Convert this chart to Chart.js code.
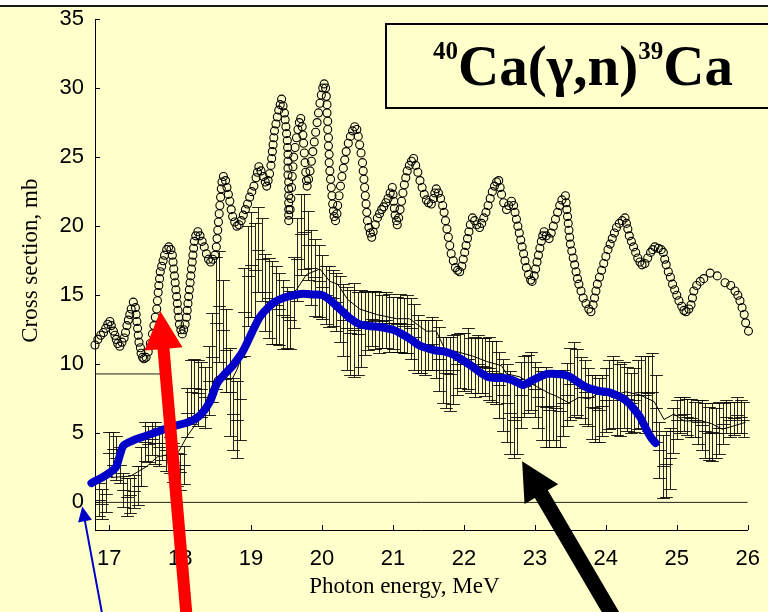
<!DOCTYPE html>
<html>
<head>
<meta charset="utf-8">
<title>40Ca(γ,n)39Ca</title>
<script src="https://cdn.jsdelivr.net/npm/chart.js@4.4.1/dist/chart.umd.min.js"></script>
<style>
  html, body { margin: 0; padding: 0; background: #ffffcc; }
  #wrap { position: relative; width: 768px; height: 612px; }
</style>
</head>
<body>
<div id="wrap"><canvas id="xsChart" width="768" height="612"></canvas></div>
<script>
// Tick positions
const xTickValues = [17, 18, 19, 20, 21, 22, 23, 24, 25, 26];
const yTickValues = [0, 5, 10, 15, 20, 25, 30, 35];

// Photoabsorption-like reference curve (open circles): [E, sigma]
const circlePoints = [
  [16.80,11.4],[16.84,11.8],[16.88,12.1],[16.92,12.3],[16.95,12.6],[16.98,12.9],[17.01,13.1],
  [17.03,12.8],[17.06,12.4],[17.08,12.1],[17.10,11.8],[17.12,11.5],[17.15,11.3],
  [17.18,11.6],[17.21,11.9],[17.23,12.3],[17.25,12.8],[17.27,13.2],[17.29,13.6],[17.31,14.0],[17.34,14.5],
  [17.37,14.1],[17.38,13.6],[17.39,13.1],[17.40,12.6],[17.41,12.1],[17.42,11.6],[17.44,11.2],[17.45,10.8],[17.47,10.5],[17.49,10.4],
  [17.52,10.5],[17.55,10.9],[17.58,11.5],[17.61,12.2],[17.63,12.8],[17.65,13.4],[17.67,14.0],[17.68,14.6],[17.69,15.2],[17.70,15.7],
  [17.71,16.2],[17.72,16.7],[17.74,17.1],[17.76,17.5],[17.78,17.9],[17.81,18.3],[17.84,18.5],
  [17.87,18.3],[17.89,17.9],[17.90,17.4],[17.91,16.9],[17.92,16.4],[17.93,15.9],[17.94,15.4],[17.95,14.9],[17.96,14.4],[17.97,13.9],
  [17.98,13.4],[17.99,12.9],[18.01,12.5],[18.03,12.2],
  [18.05,12.5],[18.07,12.9],[18.09,13.4],[18.10,13.9],[18.11,14.4],[18.12,14.9],[18.13,15.4],[18.14,15.9],[18.15,16.4],[18.16,16.9],
  [18.17,17.4],[18.18,17.9],[18.19,18.4],[18.20,18.9],[18.22,19.3],[18.25,19.6],
  [18.28,19.3],[18.31,18.9],[18.34,18.5],[18.37,18.0],[18.40,17.6],[18.43,17.4],
  [18.46,17.6],[18.49,17.9],[18.51,18.5],[18.52,19.1],[18.53,19.7],[18.54,20.3],[18.55,20.9],[18.56,21.5],[18.57,22.1],[18.58,22.7],
  [18.59,23.2],[18.61,23.6],
  [18.64,23.3],[18.66,22.8],[18.68,22.3],[18.70,21.8],[18.72,21.2],[18.74,20.7],[18.77,20.3],[18.80,20.0],
  [18.83,20.1],[18.86,20.4],[18.89,20.8],[18.92,21.2],[18.95,21.6],[18.98,22.1],[19.01,22.5],[19.04,22.9],[19.07,23.5],[19.09,23.9],[19.11,24.3],
  [19.14,24.0],[19.17,23.6],[19.20,23.2],[19.22,22.9],
  [19.24,23.3],[19.26,23.8],[19.28,24.4],[19.29,24.9],[19.30,25.4],[19.31,25.9],[19.32,26.4],[19.33,26.9],[19.35,27.4],[19.37,27.9],
  [19.39,28.4],[19.41,28.8],[19.43,29.2],
  [19.45,28.7],[19.47,28.2],[19.48,27.7],[19.49,27.2],[19.50,26.7],[19.51,26.2],[19.515,25.7],[19.52,25.2],[19.52,24.7],[19.52,24.2],
  [19.52,23.7],[19.53,23.2],[19.53,22.7],[19.53,22.2],[19.53,21.7],[19.53,21.2],[19.53,20.8],[19.53,20.4],
  [19.55,21.2],[19.56,22.0],[19.57,22.8],[19.58,23.6],[19.59,24.3],[19.60,25.0],[19.62,25.7],[19.64,26.4],[19.66,27.0],[19.68,27.5],[19.70,27.8],
  [19.72,27.2],[19.73,26.6],[19.74,26.0],[19.75,25.3],[19.76,24.6],[19.77,23.9],[19.78,23.3],[19.79,22.9],
  [19.81,23.4],[19.83,24.0],[19.85,24.7],[19.87,25.4],[19.89,26.1],[19.91,26.8],[19.93,27.5],[19.95,28.2],[19.97,28.9],[19.99,29.5],
  [20.01,30.0],[20.03,30.3],
  [20.05,30.0],[20.06,29.4],[20.07,28.8],[20.07,28.2],[20.08,27.6],[20.08,27.0],[20.09,26.4],[20.09,25.8],[20.10,25.2],[20.10,24.6],
  [20.11,24.0],[20.12,23.4],[20.13,22.8],[20.14,22.2],[20.15,21.6],[20.16,21.1],[20.17,20.7],[20.19,20.4],
  [20.21,20.9],[20.22,21.5],[20.24,22.2],[20.26,22.9],[20.28,23.6],[20.30,24.2],[20.32,24.8],[20.34,25.4],[20.37,26.0],[20.40,26.5],
  [20.43,26.9],[20.46,27.2],
  [20.49,27.0],[20.51,26.5],[20.53,25.9],[20.55,25.3],[20.57,24.6],[20.58,24.0],[20.59,23.4],[20.60,22.8],[20.61,22.2],[20.62,21.6],
  [20.63,21.0],[20.64,20.4],[20.66,19.9],[20.68,19.5],[20.70,19.2],
  [20.72,19.6],[20.75,20.1],[20.78,20.6],[20.81,20.9],[20.84,21.2],[20.87,21.4],[20.90,21.7],[20.93,22.0],[20.96,22.4],[20.99,22.8],
  [21.00,22.3],[21.01,21.8],[21.02,21.3],[21.03,20.8],[21.05,20.4],[21.06,20.1],
  [21.08,20.6],[21.10,21.2],[21.12,21.8],[21.14,22.4],[21.16,23.0],[21.18,23.5],[21.20,24.0],[21.23,24.4],[21.26,24.7],[21.29,24.9],
  [21.32,24.4],[21.35,23.9],[21.38,23.3],[21.41,22.8],[21.44,22.3],[21.47,21.9],[21.50,21.7],[21.54,21.6],
  [21.57,22.0],[21.59,22.4],[21.61,22.7],
  [21.64,22.4],[21.67,22.0],[21.70,21.5],[21.72,21.0],[21.74,20.4],[21.76,19.8],[21.78,19.2],[21.80,18.6],[21.82,18.0],[21.85,17.5],
  [21.88,17.0],[21.91,16.8],[21.94,16.7],
  [21.97,17.1],[21.99,17.6],[22.01,18.1],[22.03,18.6],[22.05,19.1],[22.07,19.6],[22.09,20.1],[22.12,20.6],
  [22.15,20.4],[22.18,20.1],[22.22,19.9],
  [22.25,20.2],[22.28,20.6],[22.31,21.0],[22.34,21.5],[22.37,22.0],[22.40,22.5],[22.43,22.9],[22.46,23.2],[22.49,23.3],
  [22.51,22.8],[22.53,22.3],[22.56,21.7],[22.60,21.2],[22.63,21.5],[22.67,21.8],
  [22.70,21.5],[22.72,21.0],[22.74,20.5],[22.76,20.0],[22.78,19.5],[22.80,19.0],[22.82,18.5],[22.84,18.0],[22.86,17.5],[22.88,17.0],
  [22.91,16.5],[22.94,16.1],[22.96,16.0],
  [22.99,16.4],[23.01,16.9],[23.03,17.4],[23.05,17.9],[23.07,18.4],[23.09,18.9],[23.11,19.3],[23.13,19.6],
  [23.16,19.3],[23.20,19.1],
  [23.23,19.5],[23.26,20.0],[23.29,20.5],[23.32,21.0],[23.35,21.5],[23.38,21.9],[23.43,22.2],
  [23.44,21.7],[23.45,21.2],[23.46,20.7],[23.47,20.2],[23.48,19.7],[23.49,19.2],[23.50,18.7],[23.52,18.2],[23.54,17.7],[23.56,17.2],
  [23.58,16.7],[23.60,16.2],[23.62,15.8],[23.65,15.3],[23.68,14.8],[23.72,14.4],[23.76,14.0],[23.79,13.8],
  [23.82,14.3],[23.84,14.8],[23.86,15.3],[23.88,15.8],[23.91,16.3],[23.94,16.8],[23.97,17.3],[24.00,17.8],[24.03,18.3],[24.06,18.7],
  [24.09,19.1],[24.12,19.5],[24.15,19.9],[24.19,20.2],[24.23,20.4],[24.27,20.6],
  [24.29,20.2],[24.31,19.8],[24.33,19.3],[24.36,18.9],[24.39,18.5],[24.42,18.1],[24.45,17.7],[24.48,17.4],[24.51,17.2],
  [24.55,17.3],[24.59,17.7],[24.63,18.1],[24.66,18.3],[24.69,18.5],
  [24.74,18.4],[24.78,18.3],[24.81,18.1],[24.83,17.6],[24.85,17.2],[24.88,16.7],[24.91,16.3],[24.94,15.8],[24.97,15.4],[25.00,15.0],
  [25.03,14.6],[25.07,14.2],[25.10,13.9],[25.13,13.8],
  [25.17,14.0],[25.20,14.3],[25.22,14.8],[25.24,15.3],[25.28,15.7],[25.33,16.0],[25.38,16.2],[25.47,16.6],
  [25.57,16.4],[25.68,15.9],[25.76,15.7],[25.82,15.3],[25.86,15.0],[25.89,14.6],[25.92,14.1],[25.95,13.6],[25.97,13.0],[26.01,12.4]
];

// Measured (γ,n) points with errors: [E, sigma, dSigma]
const measuredPoints = [
  [16.85,0.2,1.2],[16.90,-0.1,1.1],[16.95,0.6,1.3],[17.00,3.6,1.5],[17.05,3.9,1.2],[17.10,3.2,1.6],[17.15,2.7,1.3],
  [17.20,0.9,1.2],[17.25,0.4,1.4],[17.30,0.5,1.3],[17.35,0.8,1.2],[17.40,1.2,1.4],[17.45,2.6,1.4],[17.50,4.4,1.4],
  [17.55,4.2,1.3],[17.60,4.6,1.2],[17.65,4.3,1.5],[17.70,4.0,1.4],[17.75,4.3,1.2],[17.80,3.8,1.5],[17.85,3.4,1.3],
  [17.90,2.9,1.4],[17.95,2.4,1.2],[18.00,2.2,1.3],[18.05,2.7,1.4],[18.10,6.5,1.8],[18.15,8.0,2.3],[18.20,8.3,2.1],
  [18.25,7.9,2.4],[18.30,8.2,2.0],[18.35,7.6,2.2],[18.40,8.8,2.5],[18.45,10.5,3.2],[18.50,13.0,4.8],[18.55,14.2,4.0],
  [18.60,12.5,3.6],[18.65,11.0,3.0],[18.70,8.0,3.2],[18.75,6.4,2.6],[18.80,6.0,2.8],[18.85,7.5,3.0],[18.90,13.8,3.2],
  [18.95,16.4,3.6],[19.00,17.2,3.8],[19.05,16.8,3.4],[19.10,18.3,3.1],[19.15,17.6,3.0],[19.20,15.2,2.8],[19.25,14.8,2.9],
  [19.30,14.5,3.0],[19.35,14.3,2.8],[19.40,14.0,2.6],[19.45,13.6,2.5],[19.50,13.4,2.2],[19.55,13.2,2.1],[19.60,15.2,2.6],
  [19.65,17.6,3.0],[19.70,19.4,2.9],[19.75,19.6,2.7],[19.80,18.6,2.5],[19.85,17.0,2.7],[19.90,16.3,2.8],[19.95,16.0,2.6],
  [20.00,15.6,2.3],[20.05,15.0,2.1],[20.10,14.9,2.2],[20.15,14.8,2.0],[20.20,14.5,2.1],[20.25,14.0,2.4],[20.30,13.2,2.6],
  [20.35,12.6,3.0],[20.40,12.3,3.1],[20.45,12.5,3.4],[20.50,12.2,3.0],[20.55,12.6,2.8],[20.60,13.0,2.3],[20.65,13.1,2.1],
  [20.70,13.3,2.0],[20.75,13.2,2.1],[20.80,13.0,2.2],[20.85,13.1,1.9],[20.90,13.2,2.0],[20.95,13.0,2.1],[21.00,13.0,1.9],
  [21.05,12.9,2.0],[21.10,13.0,2.1],[21.15,12.8,2.0],[21.20,12.9,2.1],[21.25,12.6,2.2],[21.30,12.0,2.4],[21.35,11.5,2.1],
  [21.40,11.3,1.9],[21.45,11.2,2.0],[21.50,11.4,1.8],[21.55,11.5,1.9],[21.60,11.1,2.1],[21.65,10.4,2.3],[21.70,9.6,2.4],
  [21.75,9.4,2.6],[21.80,9.3,2.7],[21.85,9.6,2.5],[21.90,10.0,2.2],[21.95,10.3,2.0],[22.00,10.2,2.1],[22.05,10.4,2.2],
  [22.10,9.9,2.0],[22.15,9.8,2.2],[22.20,10.0,2.1],[22.25,9.9,2.0],[22.30,9.8,2.1],[22.35,9.7,2.3],[22.40,9.5,2.2],
  [22.45,9.4,2.3],[22.50,8.5,2.4],[22.55,7.8,2.6],[22.60,7.2,2.8],[22.65,6.5,3.0],[22.70,6.0,2.8],[22.75,6.2,2.7],
  [22.80,7.8,2.4],[22.85,8.4,2.2],[22.90,8.6,2.1],[22.95,8.8,2.1],[23.00,8.2,2.0],[23.05,7.6,2.2],[23.10,7.0,2.5],
  [23.15,6.9,2.9],[23.20,6.7,2.7],[23.25,7.0,2.5],[23.30,6.8,2.8],[23.35,6.6,2.6],[23.40,7.2,2.4],[23.45,7.8,2.3],
  [23.50,8.6,2.6],[23.55,8.9,2.7],[23.60,8.7,2.4],[23.65,8.3,2.2],[23.70,8.0,2.3],[23.75,7.6,2.1],[23.80,6.9,2.3],
  [23.85,6.8,2.4],[23.90,6.7,2.3],[23.95,7.0,2.2],[24.00,7.4,2.3],[24.05,7.8,2.5],[24.10,8.0,2.6],[24.15,7.6,2.7],
  [24.20,7.4,2.6],[24.25,7.8,2.4],[24.30,7.5,2.3],[24.35,7.2,2.2],[24.40,7.4,2.3],[24.45,7.8,2.5],[24.50,8.0,2.6],
  [24.55,7.8,2.8],[24.60,7.9,2.7],[24.65,8.0,2.8],[24.70,6.8,2.4],[24.75,3.8,2.0],[24.80,2.6,2.3],[24.85,2.8,2.4],
  [24.90,3.2,2.2],[24.95,5.2,1.6],[25.00,6.0,1.4],[25.05,6.3,1.3],[25.10,6.4,1.2],[25.15,6.2,1.3],[25.20,6.1,1.4],
  [25.25,6.0,1.3],[25.30,5.8,1.6],[25.35,5.6,1.8],[25.40,5.2,2.0],[25.45,5.0,1.9],[25.50,5.1,2.1],[25.55,5.0,1.8],
  [25.60,5.4,1.9],[25.65,5.7,1.5],[25.70,6.2,1.2],[25.75,6.0,1.3],[25.80,6.1,1.2],[25.85,6.3,1.3],[25.90,6.2,1.2],
  [25.95,6.0,1.3]
];

// Averaged measured data (thin line): [E, sigma]
const averagedLine = [
  [17.02,1.8],[17.30,1.9],[17.53,2.6],[17.68,3.3],[17.97,3.6],[18.10,4.8],[18.24,5.8],[18.38,7.5],[18.49,9.0],[18.59,9.3],
  [18.66,9.0],[18.73,8.9],[18.80,9.6],[18.94,11.6],[19.05,12.7],[19.17,13.6],[19.36,14.7],[19.55,15.0],[19.64,15.4],[19.78,16.5],
  [19.97,16.9],[20.11,16.0],[20.22,15.8],[20.36,14.7],[20.53,14.0],[20.77,13.6],[21.05,13.3],[21.23,13.3],[21.47,12.4],[21.61,12.4],
  [21.73,11.1],[21.91,10.9],[22.12,10.6],[22.32,10.2],[22.53,9.9],[22.60,9.3],[22.78,9.1],[23.02,8.4],[23.20,7.9],[23.30,7.7],
  [23.48,7.2],[23.62,7.6],[23.77,7.5],[23.93,8.0],[24.14,7.8],[24.28,8.0],[24.47,7.8],[24.68,7.3],[24.82,6.0],[24.96,6.4],
  [25.10,5.9],[25.35,5.9],[25.49,5.7],[25.64,5.3],[25.78,5.5],[25.97,5.8]
];

// Evaluated cross section (thick blue curve): [E, sigma]
const evaluatedCurve = [
  [16.63,0.9],[16.75,1.4],[16.90,1.8],[17.02,2.2],[17.10,2.6],[17.15,3.4],[17.20,4.1],[17.30,4.4],[17.45,4.7],[17.67,5.1],
  [17.90,5.5],[18.14,5.85],[18.28,6.3],[18.42,7.3],[18.52,8.6],[18.63,9.3],[18.74,9.9],[18.88,10.9],[19.03,12.5],[19.12,13.4],
  [19.22,14.0],[19.33,14.5],[19.45,14.8],[19.60,15.0],[19.73,15.1],[19.87,15.05],[20.01,15.0],[20.10,14.7],[20.21,14.2],[20.40,13.3],
  [20.53,12.9],[20.70,12.75],[20.81,12.7],[21.00,12.5],[21.12,12.2],[21.25,11.8],[21.36,11.4],[21.46,11.2],[21.60,11.0],[21.74,10.9],
  [21.85,10.7],[21.95,10.4],[22.10,9.9],[22.23,9.4],[22.33,9.1],[22.44,9.0],[22.55,9.0],[22.65,8.9],[22.75,8.7],[22.83,8.5],
  [22.95,8.8],[23.07,9.1],[23.18,9.3],[23.28,9.3],[23.40,9.25],[23.49,9.1],[23.58,8.8],[23.70,8.4],[23.80,8.2],[23.92,8.05],
  [24.02,8.0],[24.13,7.8],[24.25,7.5],[24.34,7.1],[24.42,6.6],[24.48,6.2],[24.54,5.6],[24.59,5.1],[24.65,4.6],[24.70,4.3]
];

// Reference levels
const zeroLevel = [[16.8, 0], [26, 0]];
const markLevel = [[16.8, 9.3], [17.75, 9.3]];

// Arrow annotations, tip and tail in data units
const arrows = [
  { tip: [17.72, 13.85], tail: [18.12, -10], color: '#ff0000', shaft: 12, headLen: 38, headWidth: 38 },
  { tip: [22.82, 2.97], tail: [24.30, -10], color: '#000000', shaft: 15, headLen: 38, headWidth: 39 },
  { tip: [16.62, -0.29], tail: [16.97, -10], color: '#0000c8', shaft: 2, headLen: 15, headWidth: 14 }
];

const SANS = '"Liberation Sans", Arial, sans-serif';
const SERIF = '"Liberation Serif", "Times New Roman", serif';

const toXY = arr => arr.map(p => ({ x: p[0], y: p[1] }));

function drawArrow(ctx, xs, ys, a) {
  const tx = xs.getPixelForValue(a.tip[0]), ty = ys.getPixelForValue(a.tip[1]);
  const sx = xs.getPixelForValue(a.tail[0]), sy = ys.getPixelForValue(a.tail[1]);
  const len = Math.hypot(tx - sx, ty - sy);
  const ux = (tx - sx) / len, uy = (ty - sy) / len;
  const nx = -uy, ny = ux;
  const bx = tx - ux * a.headLen, by = ty - uy * a.headLen;
  const hs = a.shaft / 2, hh = a.headWidth / 2;
  ctx.fillStyle = a.color;
  ctx.beginPath();
  ctx.moveTo(sx + nx * hs, sy + ny * hs);
  ctx.lineTo(bx + nx * hs, by + ny * hs);
  ctx.lineTo(bx + nx * hh, by + ny * hh);
  ctx.lineTo(tx, ty);
  ctx.lineTo(bx - nx * hh, by - ny * hh);
  ctx.lineTo(bx - nx * hs, by - ny * hs);
  ctx.lineTo(sx - nx * hs, sy - ny * hs);
  ctx.closePath();
  ctx.fill();
}

function drawTitle(ctx) {
  ctx.fillStyle = '#ffffcc';
  ctx.fillRect(386, 24, 400, 84);
  ctx.strokeStyle = '#000';
  ctx.lineWidth = 2;
  ctx.strokeRect(386, 24, 400, 84);

  const parts = [
    { t: '40', sup: true }, { t: 'Ca(γ,n)', sup: false },
    { t: '39', sup: true }, { t: 'Ca', sup: false }
  ];
  let x = 433;
  ctx.fillStyle = '#000';
  ctx.textAlign = 'left';
  ctx.textBaseline = 'alphabetic';
  parts.forEach(p => {
    ctx.font = p.sup ? 'bold 25px ' + SERIF : 'bold 57px ' + SERIF;
    ctx.fillText(p.t, x, p.sup ? 59 : 85);
    x += ctx.measureText(p.t).width;
  });
}

const decor = {
  id: 'decor',
  beforeDraw(chart) {
    const ctx = chart.ctx;
    ctx.save();
    ctx.fillStyle = '#ffffcc';
    ctx.fillRect(0, 0, chart.width, chart.height);
    ctx.fillStyle = '#ffffff';
    ctx.fillRect(0, 0, chart.width, 5);
    ctx.fillStyle = '#1a1a1a';
    ctx.fillRect(0, 5, chart.width, 2);
    ctx.restore();
  },
  beforeDatasetsDraw(chart) {
    // error bars: vertical line, end caps and a centre tick
    const ctx = chart.ctx, xs = chart.scales.x, ys = chart.scales.y;
    const a = chart.chartArea;
    ctx.save();
    ctx.beginPath();
    ctx.rect(a.left, a.top, a.right - a.left + 2, a.bottom - a.top);
    ctx.clip();
    ctx.strokeStyle = 'rgba(0,0,0,0.85)';
    ctx.lineWidth = 1;
    ctx.beginPath();
    measuredPoints.forEach(p => {
      const px = Math.round(xs.getPixelForValue(p[0])) + 0.5;
      const hw = xs.getPixelForValue(p[0] + 0.09) - xs.getPixelForValue(p[0]);
      const yt = Math.round(ys.getPixelForValue(p[1] + p[2])) + 0.5;
      const yb = Math.round(ys.getPixelForValue(p[1] - p[2])) + 0.5;
      const ym = Math.round(ys.getPixelForValue(p[1])) + 0.5;
      ctx.moveTo(px, yt); ctx.lineTo(px, yb);
      [yt, ym, yb].forEach(y => { ctx.moveTo(px - hw, y); ctx.lineTo(px + hw, y); });
    });
    ctx.stroke();
    ctx.restore();
  },
  afterDraw(chart) {
    const ctx = chart.ctx, xs = chart.scales.x, ys = chart.scales.y;
    const a = chart.chartArea;
    ctx.save();

    // inward tick marks
    ctx.strokeStyle = '#000';
    ctx.lineWidth = 1;
    ctx.beginPath();
    yTickValues.forEach(v => {
      const py = Math.round(ys.getPixelForValue(v)) + 0.5;
      ctx.moveTo(a.left, py); ctx.lineTo(a.left + 5, py);
    });
    xTickValues.forEach(v => {
      const px = Math.round(xs.getPixelForValue(v)) + 0.5;
      ctx.moveTo(px, a.bottom); ctx.lineTo(px, a.bottom - 5);
    });
    ctx.stroke();

    // axis titles
    ctx.fillStyle = '#000';
    ctx.font = '23px ' + SERIF;
    ctx.textAlign = 'center';
    ctx.textBaseline = 'alphabetic';
    ctx.fillText('Photon energy, MeV', a.left + (a.right - a.left) * 0.474, 593);
    ctx.save();
    ctx.translate(37, a.top + (a.bottom - a.top) * 0.473);
    ctx.rotate(-Math.PI / 2);
    ctx.fillText('Cross section, mb', 0, 0);
    ctx.restore();

    drawTitle(ctx);
    arrows.forEach(ar => drawArrow(ctx, xs, ys, ar));
    ctx.restore();
  }
};

const tickFont = { family: SANS, size: 22 };

new Chart(document.getElementById('xsChart').getContext('2d'), {
  type: 'scatter',
  data: {
    datasets: [
      {
        label: 'Evaluation',
        data: toXY(evaluatedCurve),
        showLine: true,
        borderColor: '#0000c8',
        borderWidth: 8,
        borderCapStyle: 'round',
        borderJoinStyle: 'round',
        tension: 0.3,
        pointRadius: 0,
        clip: false,
        order: 0
      },
      {
        label: 'Absorption',
        data: toXY(circlePoints),
        pointStyle: 'circle',
        pointRadius: 4,
        pointBorderWidth: 1.1,
        pointBorderColor: '#000',
        pointBackgroundColor: 'rgba(0,0,0,0)',
        clip: false,
        order: 1
      },
      {
        label: 'Average',
        data: toXY(averagedLine),
        showLine: true,
        borderColor: '#000',
        borderWidth: 1,
        pointRadius: 0,
        order: 2
      },
      {
        label: 'Zero',
        data: toXY(zeroLevel),
        showLine: true,
        borderColor: '#222',
        borderWidth: 1,
        pointRadius: 0,
        order: 3
      },
      {
        label: 'Level',
        data: toXY(markLevel),
        showLine: true,
        borderColor: '#222',
        borderWidth: 1,
        pointRadius: 0,
        order: 3
      }
    ]
  },
  options: {
    responsive: false,
    animation: false,
    devicePixelRatio: 1,
    layout: { padding: { left: 0, right: 20, top: 19, bottom: 0 } },
    plugins: { legend: { display: false }, tooltip: { enabled: false } },
    scales: {
      x: {
        type: 'linear',
        min: 16.8,
        max: 26,
        afterBuildTicks: s => { s.ticks = xTickValues.map(v => ({ value: v })); },
        afterFit: s => { s.height = 82; },
        grid: { display: false },
        border: { display: true, color: '#000', width: 1 },
        ticks: { font: tickFont, color: '#000', padding: 8, maxRotation: 0, autoSkip: false }
      },
      y: {
        type: 'linear',
        min: -2,
        max: 35,
        afterBuildTicks: s => { s.ticks = yTickValues.map(v => ({ value: v })); },
        afterFit: s => { s.width = 95; },
        grid: { display: false },
        border: { display: true, color: '#000', width: 1 },
        ticks: { font: tickFont, color: '#000', padding: 3, autoSkip: false }
      }
    }
  },
  plugins: [decor]
});
</script>
</body>
</html>
